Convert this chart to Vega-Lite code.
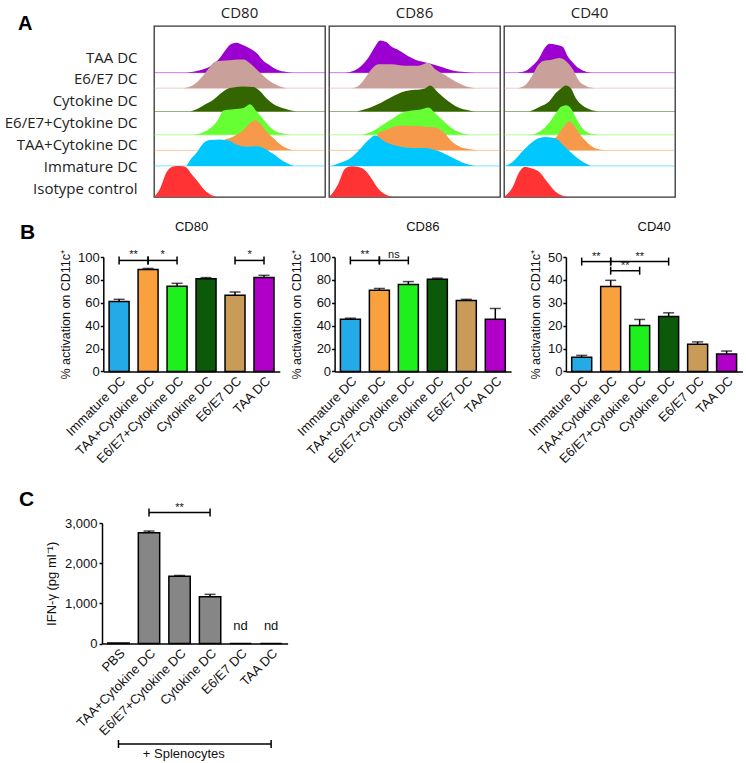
{
"$schema":"https://vega.github.io/schema/vega-lite/v6.json",
"padding":{"left":0,"top":5,"right":0,"bottom":0},
"background":"#ffffff",
"bounds":"flush",
"spacing":0,
"resolve":{"scale":{"x":"independent","y":"independent","color":"independent"}},
"config":{"view":{"stroke":null},"font":"Liberation Sans","axis":{"domainColor":"#000","tickColor":"#000","labelColor":"#111","titleColor":"#111","grid":false,"labelFont":"Liberation Sans","titleFont":"Liberation Sans","titleFontWeight":"normal","domainWidth":1.5,"tickWidth":1.5},"title":{"font":"Liberation Sans","fontWeight":"normal","color":"#111"},"text":{"font":"Liberation Sans","color":"#111"}},
"datasets":{
"hist":[
{"m":"CD80","g":"TAA DC","ch":196,"n":0},{"m":"CD80","g":"TAA DC","ch":276,"n":8},{"m":"CD80","g":"TAA DC","ch":336,"n":20},{"m":"CD80","g":"TAA DC","ch":396,"n":48},{"m":"CD80","g":"TAA DC","ch":436,"n":78},{"m":"CD80","g":"TAA DC","ch":466,"n":93},{"m":"CD80","g":"TAA DC","ch":496,"n":96},{"m":"CD80","g":"TAA DC","ch":536,"n":88},{"m":"CD80","g":"TAA DC","ch":576,"n":78},{"m":"CD80","g":"TAA DC","ch":616,"n":63},{"m":"CD80","g":"TAA DC","ch":656,"n":38},{"m":"CD80","g":"TAA DC","ch":696,"n":23},{"m":"CD80","g":"TAA DC","ch":736,"n":10},{"m":"CD80","g":"TAA DC","ch":796,"n":2},{"m":"CD80","g":"TAA DC","ch":836,"n":0},
{"m":"CD80","g":"E6/E7 DC","ch":176,"n":0},{"m":"CD80","g":"E6/E7 DC","ch":236,"n":10},{"m":"CD80","g":"E6/E7 DC","ch":286,"n":35},{"m":"CD80","g":"E6/E7 DC","ch":326,"n":62},{"m":"CD80","g":"E6/E7 DC","ch":366,"n":85},{"m":"CD80","g":"E6/E7 DC","ch":406,"n":88},{"m":"CD80","g":"E6/E7 DC","ch":456,"n":90},{"m":"CD80","g":"E6/E7 DC","ch":506,"n":92},{"m":"CD80","g":"E6/E7 DC","ch":536,"n":92},{"m":"CD80","g":"E6/E7 DC","ch":576,"n":80},{"m":"CD80","g":"E6/E7 DC","ch":616,"n":60},{"m":"CD80","g":"E6/E7 DC","ch":656,"n":40},{"m":"CD80","g":"E6/E7 DC","ch":696,"n":22},{"m":"CD80","g":"E6/E7 DC","ch":746,"n":8},{"m":"CD80","g":"E6/E7 DC","ch":796,"n":0},
{"m":"CD80","g":"Cytokine DC","ch":216,"n":0},{"m":"CD80","g":"Cytokine DC","ch":256,"n":8},{"m":"CD80","g":"Cytokine DC","ch":296,"n":21},{"m":"CD80","g":"Cytokine DC","ch":356,"n":41},{"m":"CD80","g":"Cytokine DC","ch":396,"n":61},{"m":"CD80","g":"Cytokine DC","ch":436,"n":78},{"m":"CD80","g":"Cytokine DC","ch":476,"n":84},{"m":"CD80","g":"Cytokine DC","ch":536,"n":88},{"m":"CD80","g":"Cytokine DC","ch":596,"n":86},{"m":"CD80","g":"Cytokine DC","ch":636,"n":71},{"m":"CD80","g":"Cytokine DC","ch":676,"n":46},{"m":"CD80","g":"Cytokine DC","ch":716,"n":26},{"m":"CD80","g":"Cytokine DC","ch":776,"n":11},{"m":"CD80","g":"Cytokine DC","ch":836,"n":2},{"m":"CD80","g":"Cytokine DC","ch":856,"n":0},
{"m":"CD80","g":"E6/E7+Cytokine DC","ch":236,"n":0},{"m":"CD80","g":"E6/E7+Cytokine DC","ch":296,"n":8},{"m":"CD80","g":"E6/E7+Cytokine DC","ch":356,"n":30},{"m":"CD80","g":"E6/E7+Cytokine DC","ch":386,"n":50},{"m":"CD80","g":"E6/E7+Cytokine DC","ch":416,"n":78},{"m":"CD80","g":"E6/E7+Cytokine DC","ch":476,"n":82},{"m":"CD80","g":"E6/E7+Cytokine DC","ch":536,"n":86},{"m":"CD80","g":"E6/E7+Cytokine DC","ch":576,"n":98},{"m":"CD80","g":"E6/E7+Cytokine DC","ch":616,"n":75},{"m":"CD80","g":"E6/E7+Cytokine DC","ch":656,"n":50},{"m":"CD80","g":"E6/E7+Cytokine DC","ch":696,"n":25},{"m":"CD80","g":"E6/E7+Cytokine DC","ch":736,"n":10},{"m":"CD80","g":"E6/E7+Cytokine DC","ch":796,"n":2},{"m":"CD80","g":"E6/E7+Cytokine DC","ch":816,"n":0},
{"m":"CD80","g":"TAA+Cytokine DC","ch":296,"n":0},{"m":"CD80","g":"TAA+Cytokine DC","ch":376,"n":10},{"m":"CD80","g":"TAA+Cytokine DC","ch":426,"n":35},{"m":"CD80","g":"TAA+Cytokine DC","ch":456,"n":40},{"m":"CD80","g":"TAA+Cytokine DC","ch":496,"n":50},{"m":"CD80","g":"TAA+Cytokine DC","ch":536,"n":65},{"m":"CD80","g":"TAA+Cytokine DC","ch":576,"n":87},{"m":"CD80","g":"TAA+Cytokine DC","ch":606,"n":97},{"m":"CD80","g":"TAA+Cytokine DC","ch":636,"n":87},{"m":"CD80","g":"TAA+Cytokine DC","ch":676,"n":60},{"m":"CD80","g":"TAA+Cytokine DC","ch":716,"n":40},{"m":"CD80","g":"TAA+Cytokine DC","ch":756,"n":20},{"m":"CD80","g":"TAA+Cytokine DC","ch":796,"n":7},{"m":"CD80","g":"TAA+Cytokine DC","ch":836,"n":0},
{"m":"CD80","g":"Immature DC","ch":196,"n":0},{"m":"CD80","g":"Immature DC","ch":216,"n":18},{"m":"CD80","g":"Immature DC","ch":256,"n":43},{"m":"CD80","g":"Immature DC","ch":296,"n":73},{"m":"CD80","g":"Immature DC","ch":336,"n":83},{"m":"CD80","g":"Immature DC","ch":396,"n":85},{"m":"CD80","g":"Immature DC","ch":456,"n":80},{"m":"CD80","g":"Immature DC","ch":496,"n":68},{"m":"CD80","g":"Immature DC","ch":556,"n":62},{"m":"CD80","g":"Immature DC","ch":616,"n":63},{"m":"CD80","g":"Immature DC","ch":656,"n":58},{"m":"CD80","g":"Immature DC","ch":716,"n":38},{"m":"CD80","g":"Immature DC","ch":776,"n":15},{"m":"CD80","g":"Immature DC","ch":836,"n":0},
{"m":"CD80","g":"Isotype control","ch":0,"n":0},{"m":"CD80","g":"Isotype control","ch":36,"n":25},{"m":"CD80","g":"Isotype control","ch":76,"n":75},{"m":"CD80","g":"Isotype control","ch":106,"n":90},{"m":"CD80","g":"Isotype control","ch":136,"n":93},{"m":"CD80","g":"Isotype control","ch":176,"n":92},{"m":"CD80","g":"Isotype control","ch":196,"n":88},{"m":"CD80","g":"Isotype control","ch":226,"n":68},{"m":"CD80","g":"Isotype control","ch":256,"n":50},{"m":"CD80","g":"Isotype control","ch":296,"n":25},{"m":"CD80","g":"Isotype control","ch":336,"n":8},{"m":"CD80","g":"Isotype control","ch":376,"n":0},
{"m":"CD86","g":"TAA DC","ch":96,"n":0},{"m":"CD86","g":"TAA DC","ch":156,"n":8},{"m":"CD86","g":"TAA DC","ch":196,"n":23},{"m":"CD86","g":"TAA DC","ch":236,"n":48},{"m":"CD86","g":"TAA DC","ch":276,"n":83},{"m":"CD86","g":"TAA DC","ch":306,"n":103},{"m":"CD86","g":"TAA DC","ch":346,"n":98},{"m":"CD86","g":"TAA DC","ch":376,"n":83},{"m":"CD86","g":"TAA DC","ch":416,"n":73},{"m":"CD86","g":"TAA DC","ch":476,"n":53},{"m":"CD86","g":"TAA DC","ch":536,"n":38},{"m":"CD86","g":"TAA DC","ch":586,"n":32},{"m":"CD86","g":"TAA DC","ch":616,"n":28},{"m":"CD86","g":"TAA DC","ch":676,"n":18},{"m":"CD86","g":"TAA DC","ch":736,"n":8},{"m":"CD86","g":"TAA DC","ch":816,"n":2},{"m":"CD86","g":"TAA DC","ch":876,"n":0},
{"m":"CD86","g":"E6/E7 DC","ch":136,"n":0},{"m":"CD86","g":"E6/E7 DC","ch":176,"n":7},{"m":"CD86","g":"E6/E7 DC","ch":216,"n":32},{"m":"CD86","g":"E6/E7 DC","ch":256,"n":62},{"m":"CD86","g":"E6/E7 DC","ch":296,"n":77},{"m":"CD86","g":"E6/E7 DC","ch":376,"n":77},{"m":"CD86","g":"E6/E7 DC","ch":456,"n":72},{"m":"CD86","g":"E6/E7 DC","ch":536,"n":72},{"m":"CD86","g":"E6/E7 DC","ch":596,"n":82},{"m":"CD86","g":"E6/E7 DC","ch":636,"n":62},{"m":"CD86","g":"E6/E7 DC","ch":696,"n":42},{"m":"CD86","g":"E6/E7 DC","ch":756,"n":22},{"m":"CD86","g":"E6/E7 DC","ch":816,"n":7},{"m":"CD86","g":"E6/E7 DC","ch":876,"n":0},
{"m":"CD86","g":"Cytokine DC","ch":166,"n":0},{"m":"CD86","g":"Cytokine DC","ch":236,"n":11},{"m":"CD86","g":"Cytokine DC","ch":296,"n":26},{"m":"CD86","g":"Cytokine DC","ch":376,"n":51},{"m":"CD86","g":"Cytokine DC","ch":456,"n":71},{"m":"CD86","g":"Cytokine DC","ch":516,"n":76},{"m":"CD86","g":"Cytokine DC","ch":576,"n":81},{"m":"CD86","g":"Cytokine DC","ch":606,"n":91},{"m":"CD86","g":"Cytokine DC","ch":656,"n":66},{"m":"CD86","g":"Cytokine DC","ch":716,"n":36},{"m":"CD86","g":"Cytokine DC","ch":776,"n":14},{"m":"CD86","g":"Cytokine DC","ch":836,"n":4},{"m":"CD86","g":"Cytokine DC","ch":876,"n":0},
{"m":"CD86","g":"E6/E7+Cytokine DC","ch":196,"n":0},{"m":"CD86","g":"E6/E7+Cytokine DC","ch":256,"n":10},{"m":"CD86","g":"E6/E7+Cytokine DC","ch":316,"n":30},{"m":"CD86","g":"E6/E7+Cytokine DC","ch":376,"n":50},{"m":"CD86","g":"E6/E7+Cytokine DC","ch":436,"n":70},{"m":"CD86","g":"E6/E7+Cytokine DC","ch":496,"n":78},{"m":"CD86","g":"E6/E7+Cytokine DC","ch":556,"n":82},{"m":"CD86","g":"E6/E7+Cytokine DC","ch":596,"n":88},{"m":"CD86","g":"E6/E7+Cytokine DC","ch":636,"n":70},{"m":"CD86","g":"E6/E7+Cytokine DC","ch":696,"n":40},{"m":"CD86","g":"E6/E7+Cytokine DC","ch":756,"n":15},{"m":"CD86","g":"E6/E7+Cytokine DC","ch":816,"n":3},{"m":"CD86","g":"E6/E7+Cytokine DC","ch":876,"n":0},
{"m":"CD86","g":"TAA+Cytokine DC","ch":136,"n":0},{"m":"CD86","g":"TAA+Cytokine DC","ch":216,"n":8},{"m":"CD86","g":"TAA+Cytokine DC","ch":276,"n":30},{"m":"CD86","g":"TAA+Cytokine DC","ch":296,"n":55},{"m":"CD86","g":"TAA+Cytokine DC","ch":336,"n":64},{"m":"CD86","g":"TAA+Cytokine DC","ch":416,"n":79},{"m":"CD86","g":"TAA+Cytokine DC","ch":496,"n":79},{"m":"CD86","g":"TAA+Cytokine DC","ch":576,"n":76},{"m":"CD86","g":"TAA+Cytokine DC","ch":636,"n":74},{"m":"CD86","g":"TAA+Cytokine DC","ch":696,"n":54},{"m":"CD86","g":"TAA+Cytokine DC","ch":736,"n":29},{"m":"CD86","g":"TAA+Cytokine DC","ch":776,"n":14},{"m":"CD86","g":"TAA+Cytokine DC","ch":836,"n":4},{"m":"CD86","g":"TAA+Cytokine DC","ch":896,"n":0},
{"m":"CD86","g":"Immature DC","ch":16,"n":0},{"m":"CD86","g":"Immature DC","ch":56,"n":8},{"m":"CD86","g":"Immature DC","ch":136,"n":28},{"m":"CD86","g":"Immature DC","ch":176,"n":48},{"m":"CD86","g":"Immature DC","ch":236,"n":83},{"m":"CD86","g":"Immature DC","ch":276,"n":98},{"m":"CD86","g":"Immature DC","ch":336,"n":78},{"m":"CD86","g":"Immature DC","ch":416,"n":63},{"m":"CD86","g":"Immature DC","ch":496,"n":58},{"m":"CD86","g":"Immature DC","ch":576,"n":58},{"m":"CD86","g":"Immature DC","ch":656,"n":48},{"m":"CD86","g":"Immature DC","ch":736,"n":28},{"m":"CD86","g":"Immature DC","ch":816,"n":8},{"m":"CD86","g":"Immature DC","ch":876,"n":0},
{"m":"CD86","g":"Isotype control","ch":0,"n":0},{"m":"CD86","g":"Isotype control","ch":26,"n":15},{"m":"CD86","g":"Isotype control","ch":56,"n":40},{"m":"CD86","g":"Isotype control","ch":96,"n":85},{"m":"CD86","g":"Isotype control","ch":136,"n":92},{"m":"CD86","g":"Isotype control","ch":176,"n":90},{"m":"CD86","g":"Isotype control","ch":216,"n":80},{"m":"CD86","g":"Isotype control","ch":256,"n":55},{"m":"CD86","g":"Isotype control","ch":296,"n":25},{"m":"CD86","g":"Isotype control","ch":336,"n":8},{"m":"CD86","g":"Isotype control","ch":386,"n":0},
{"m":"CD40","g":"TAA DC","ch":82,"n":0},{"m":"CD40","g":"TAA DC","ch":132,"n":6},{"m":"CD40","g":"TAA DC","ch":172,"n":23},{"m":"CD40","g":"TAA DC","ch":212,"n":48},{"m":"CD40","g":"TAA DC","ch":242,"n":78},{"m":"CD40","g":"TAA DC","ch":272,"n":93},{"m":"CD40","g":"TAA DC","ch":312,"n":90},{"m":"CD40","g":"TAA DC","ch":352,"n":83},{"m":"CD40","g":"TAA DC","ch":382,"n":53},{"m":"CD40","g":"TAA DC","ch":412,"n":33},{"m":"CD40","g":"TAA DC","ch":452,"n":13},{"m":"CD40","g":"TAA DC","ch":492,"n":3},{"m":"CD40","g":"TAA DC","ch":532,"n":0},
{"m":"CD40","g":"E6/E7 DC","ch":82,"n":0},{"m":"CD40","g":"E6/E7 DC","ch":132,"n":12},{"m":"CD40","g":"E6/E7 DC","ch":172,"n":42},{"m":"CD40","g":"E6/E7 DC","ch":202,"n":72},{"m":"CD40","g":"E6/E7 DC","ch":232,"n":87},{"m":"CD40","g":"E6/E7 DC","ch":292,"n":92},{"m":"CD40","g":"E6/E7 DC","ch":332,"n":97},{"m":"CD40","g":"E6/E7 DC","ch":372,"n":87},{"m":"CD40","g":"E6/E7 DC","ch":412,"n":62},{"m":"CD40","g":"E6/E7 DC","ch":452,"n":22},{"m":"CD40","g":"E6/E7 DC","ch":492,"n":7},{"m":"CD40","g":"E6/E7 DC","ch":542,"n":0},
{"m":"CD40","g":"Cytokine DC","ch":152,"n":0},{"m":"CD40","g":"Cytokine DC","ch":212,"n":16},{"m":"CD40","g":"Cytokine DC","ch":272,"n":36},{"m":"CD40","g":"Cytokine DC","ch":312,"n":66},{"m":"CD40","g":"Cytokine DC","ch":342,"n":81},{"m":"CD40","g":"Cytokine DC","ch":372,"n":91},{"m":"CD40","g":"Cytokine DC","ch":402,"n":81},{"m":"CD40","g":"Cytokine DC","ch":432,"n":46},{"m":"CD40","g":"Cytokine DC","ch":472,"n":21},{"m":"CD40","g":"Cytokine DC","ch":512,"n":8},{"m":"CD40","g":"Cytokine DC","ch":572,"n":0},
{"m":"CD40","g":"E6/E7+Cytokine DC","ch":152,"n":0},{"m":"CD40","g":"E6/E7+Cytokine DC","ch":212,"n":10},{"m":"CD40","g":"E6/E7+Cytokine DC","ch":272,"n":40},{"m":"CD40","g":"E6/E7+Cytokine DC","ch":312,"n":70},{"m":"CD40","g":"E6/E7+Cytokine DC","ch":342,"n":90},{"m":"CD40","g":"E6/E7+Cytokine DC","ch":372,"n":95},{"m":"CD40","g":"E6/E7+Cytokine DC","ch":402,"n":85},{"m":"CD40","g":"E6/E7+Cytokine DC","ch":432,"n":55},{"m":"CD40","g":"E6/E7+Cytokine DC","ch":472,"n":20},{"m":"CD40","g":"E6/E7+Cytokine DC","ch":512,"n":5},{"m":"CD40","g":"E6/E7+Cytokine DC","ch":572,"n":0},
{"m":"CD40","g":"TAA+Cytokine DC","ch":192,"n":0},{"m":"CD40","g":"TAA+Cytokine DC","ch":272,"n":19},{"m":"CD40","g":"TAA+Cytokine DC","ch":322,"n":49},{"m":"CD40","g":"TAA+Cytokine DC","ch":362,"n":79},{"m":"CD40","g":"TAA+Cytokine DC","ch":392,"n":94},{"m":"CD40","g":"TAA+Cytokine DC","ch":422,"n":79},{"m":"CD40","g":"TAA+Cytokine DC","ch":452,"n":54},{"m":"CD40","g":"TAA+Cytokine DC","ch":502,"n":24},{"m":"CD40","g":"TAA+Cytokine DC","ch":552,"n":6},{"m":"CD40","g":"TAA+Cytokine DC","ch":612,"n":0},
{"m":"CD40","g":"Immature DC","ch":12,"n":0},{"m":"CD40","g":"Immature DC","ch":52,"n":13},{"m":"CD40","g":"Immature DC","ch":112,"n":48},{"m":"CD40","g":"Immature DC","ch":172,"n":78},{"m":"CD40","g":"Immature DC","ch":212,"n":90},{"m":"CD40","g":"Immature DC","ch":252,"n":93},{"m":"CD40","g":"Immature DC","ch":312,"n":88},{"m":"CD40","g":"Immature DC","ch":352,"n":68},{"m":"CD40","g":"Immature DC","ch":412,"n":38},{"m":"CD40","g":"Immature DC","ch":472,"n":13},{"m":"CD40","g":"Immature DC","ch":522,"n":0},
{"m":"CD40","g":"Isotype control","ch":2,"n":0},{"m":"CD40","g":"Isotype control","ch":52,"n":30},{"m":"CD40","g":"Isotype control","ch":92,"n":75},{"m":"CD40","g":"Isotype control","ch":122,"n":90},{"m":"CD40","g":"Isotype control","ch":172,"n":85},{"m":"CD40","g":"Isotype control","ch":212,"n":75},{"m":"CD40","g":"Isotype control","ch":252,"n":50},{"m":"CD40","g":"Isotype control","ch":292,"n":25},{"m":"CD40","g":"Isotype control","ch":332,"n":8},{"m":"CD40","g":"Isotype control","ch":382,"n":0}
],
"bars":[
{"m":"CD80","g":"Immature DC","v":61,"u":63},{"m":"CD80","g":"TAA+Cytokine DC","v":89,"u":90},{"m":"CD80","g":"E6/E7+Cytokine DC","v":74.5,"u":77},{"m":"CD80","g":"Cytokine DC","v":81,"u":82},{"m":"CD80","g":"E6/E7 DC","v":66.5,"u":69.5},{"m":"CD80","g":"TAA DC","v":82,"u":84},
{"m":"CD86","g":"Immature DC","v":45.5,"u":46.5},{"m":"CD86","g":"TAA+Cytokine DC","v":71,"u":72.5},{"m":"CD86","g":"E6/E7+Cytokine DC","v":76,"u":78.5},{"m":"CD86","g":"Cytokine DC","v":80.5,"u":81.5},{"m":"CD86","g":"E6/E7 DC","v":62,"u":63},{"m":"CD86","g":"TAA DC","v":45.5,"u":55},
{"m":"CD40","g":"Immature DC","v":6.2,"u":7},{"m":"CD40","g":"TAA+Cytokine DC","v":37.1,"u":39.8},{"m":"CD40","g":"E6/E7+Cytokine DC","v":20.1,"u":22.7},{"m":"CD40","g":"Cytokine DC","v":24,"u":25.6},{"m":"CD40","g":"E6/E7 DC","v":11.9,"u":12.9},{"m":"CD40","g":"TAA DC","v":7.6,"u":8.9}
],
"br":[
{"m":"CD80","from":"Immature DC","to":"TAA+Cytokine DC","mid":"","span":1,"lv":97,"lab":"**"},
{"m":"CD80","from":"TAA+Cytokine DC","to":"E6/E7+Cytokine DC","mid":"","span":1,"lv":97,"lab":"*"},
{"m":"CD80","from":"E6/E7 DC","to":"TAA DC","mid":"","span":1,"lv":97,"lab":"*"},
{"m":"CD86","from":"Immature DC","to":"TAA+Cytokine DC","mid":"","span":1,"lv":97,"lab":"**"},
{"m":"CD86","from":"TAA+Cytokine DC","to":"E6/E7+Cytokine DC","mid":"","span":1,"lv":97,"lab":"ns"},
{"m":"CD40","from":"Immature DC","to":"TAA+Cytokine DC","mid":"","span":1,"lv":48,"lab":"**"},
{"m":"CD40","from":"TAA+Cytokine DC","to":"Cytokine DC","mid":"E6/E7+Cytokine DC","span":2,"lv":48,"lab":"**"},
{"m":"CD40","from":"TAA+Cytokine DC","to":"E6/E7+Cytokine DC","mid":"","span":1,"lv":44,"lab":"**"},
{"m":"IFN","from":"TAA+Cytokine DC","to":"Cytokine DC","mid":"E6/E7+Cytokine DC","span":2,"lv":3260,"lab":"**"}
],
"cb":[
{"g":"PBS","v":12,"u":12,"lab":""},{"g":"TAA+Cytokine DC","v":2760,"u":2800,"lab":""},{"g":"E6/E7+Cytokine DC","v":1675,"u":1695,"lab":""},{"g":"Cytokine DC","v":1165,"u":1225,"lab":""},{"g":"E6/E7 DC","v":0,"u":0,"lab":"nd"},{"g":"TAA DC","v":0,"u":0,"lab":"nd"}
]
},
"vconcat":[
{"bounds":"flush","spacing":4,"resolve":{"scale":{"x":"independent","y":"independent","color":"independent"}},"hconcat":[
{"width":150,"height":171,"data":{"values":[]},"mark":"point","title":{"text":"A","anchor":"start","frame":"group","fontSize":20,"fontWeight":"bold","color":"#000","baseline":"alphabetic","offset":-19,"dx":18,"dy":5}},
{"width":171,"height":171,"view":{"stroke":"#333","strokeWidth":1.3},"title":{"text":"CD80","frame":"group","anchor":"middle","font":"Open Sans","fontSize":15,"color":"#222","baseline":"alphabetic","offset":-7.2},"resolve":{"scale":{"y":"independent"}},"layer":[
{"layer":[{"data":{"name":"hist"},"transform":[{"filter":"datum.m=='CD80'&&datum.g=='TAA DC'"}],"mark":{"type":"area","color":"#9B00D0","interpolate":"monotone"},"encoding":{"x":{"field":"ch","type":"quantitative","scale":{"domain":[0,1026]},"axis":null},"y":{"field":"n","type":"quantitative","scale":{"domain":[-385,128]},"axis":null},"y2":{"datum":0}}},{"data":{"values":[{}]},"mark":{"type":"rule","color":"#9B00D0","strokeWidth":1,"opacity":0.5},"encoding":{"y":{"datum":0,"type":"quantitative","axis":null}}}]},
{"layer":[{"data":{"name":"hist"},"transform":[{"filter":"datum.m=='CD80'&&datum.g=='E6/E7 DC'"}],"mark":{"type":"area","color":"#C9A09A","interpolate":"monotone"},"encoding":{"x":{"field":"ch","type":"quantitative","scale":{"domain":[0,1026]},"axis":null},"y":{"field":"n","type":"quantitative","scale":{"domain":[-321,192]},"axis":null},"y2":{"datum":0}}},{"data":{"values":[{}]},"mark":{"type":"rule","color":"#C9A09A","strokeWidth":1,"opacity":0.5},"encoding":{"y":{"datum":0,"type":"quantitative","axis":null}}}]},
{"layer":[{"data":{"name":"hist"},"transform":[{"filter":"datum.m=='CD80'&&datum.g=='Cytokine DC'"}],"mark":{"type":"area","color":"#336600","interpolate":"monotone"},"encoding":{"x":{"field":"ch","type":"quantitative","scale":{"domain":[0,1026]},"axis":null},"y":{"field":"n","type":"quantitative","scale":{"domain":[-257,256]},"axis":null},"y2":{"datum":0}}},{"data":{"values":[{}]},"mark":{"type":"rule","color":"#336600","strokeWidth":1,"opacity":0.5},"encoding":{"y":{"datum":0,"type":"quantitative","axis":null}}}]},
{"layer":[{"data":{"name":"hist"},"transform":[{"filter":"datum.m=='CD80'&&datum.g=='E6/E7+Cytokine DC'"}],"mark":{"type":"area","color":"#66FF33","interpolate":"monotone"},"encoding":{"x":{"field":"ch","type":"quantitative","scale":{"domain":[0,1026]},"axis":null},"y":{"field":"n","type":"quantitative","scale":{"domain":[-193,320]},"axis":null},"y2":{"datum":0}}},{"data":{"values":[{}]},"mark":{"type":"rule","color":"#66FF33","strokeWidth":1,"opacity":0.5},"encoding":{"y":{"datum":0,"type":"quantitative","axis":null}}}]},
{"layer":[{"data":{"name":"hist"},"transform":[{"filter":"datum.m=='CD80'&&datum.g=='TAA+Cytokine DC'"}],"mark":{"type":"area","color":"#F7994A","interpolate":"monotone"},"encoding":{"x":{"field":"ch","type":"quantitative","scale":{"domain":[0,1026]},"axis":null},"y":{"field":"n","type":"quantitative","scale":{"domain":[-128,385]},"axis":null},"y2":{"datum":0}}},{"data":{"values":[{}]},"mark":{"type":"rule","color":"#F7994A","strokeWidth":1,"opacity":0.5},"encoding":{"y":{"datum":0,"type":"quantitative","axis":null}}}]},
{"layer":[{"data":{"name":"hist"},"transform":[{"filter":"datum.m=='CD80'&&datum.g=='Immature DC'"}],"mark":{"type":"area","color":"#00C8FF","interpolate":"monotone"},"encoding":{"x":{"field":"ch","type":"quantitative","scale":{"domain":[0,1026]},"axis":null},"y":{"field":"n","type":"quantitative","scale":{"domain":[-64,449]},"axis":null},"y2":{"datum":0}}},{"data":{"values":[{}]},"mark":{"type":"rule","color":"#00C8FF","strokeWidth":1,"opacity":0.5},"encoding":{"y":{"datum":0,"type":"quantitative","axis":null}}}]},
{"layer":[{"data":{"name":"hist"},"transform":[{"filter":"datum.m=='CD80'&&datum.g=='Isotype control'"}],"mark":{"type":"area","color":"#FF3333","interpolate":"monotone"},"encoding":{"x":{"field":"ch","type":"quantitative","scale":{"domain":[0,1026]},"axis":null},"y":{"field":"n","type":"quantitative","scale":{"domain":[0,513]},"axis":null},"y2":{"datum":0}}}]},
{"data":{"values":[{"g":"TAA DC"},{"g":"E6/E7 DC"},{"g":"Cytokine DC"},{"g":"E6/E7+Cytokine DC"},{"g":"TAA+Cytokine DC"},{"g":"Immature DC"},{"g":"Isotype control"}]},"mark":{"type":"point","opacity":0},"encoding":{"y":{"field":"g","type":"nominal","scale":{"type":"point","padding":0,"domain":["TAA DC","E6/E7 DC","Cytokine DC","E6/E7+Cytokine DC","TAA+Cytokine DC","Immature DC","Isotype control"],"range":[31,162]},"axis":{"orient":"left","ticks":false,"tickSize":0,"domain":false,"labelFont":"Open Sans","labelFontSize":15,"labelColor":"#222","labelPadding":17,"title":null,"labelBaseline":"middle"}}}}
]},
{"width":171,"height":171,"view":{"stroke":"#333","strokeWidth":1.3},"title":{"text":"CD86","frame":"group","anchor":"middle","font":"Open Sans","fontSize":15,"color":"#222","baseline":"alphabetic","offset":-7.2},"resolve":{"scale":{"y":"independent"}},"layer":[
{"layer":[{"data":{"name":"hist"},"transform":[{"filter":"datum.m=='CD86'&&datum.g=='TAA DC'"}],"mark":{"type":"area","color":"#9B00D0","interpolate":"monotone"},"encoding":{"x":{"field":"ch","type":"quantitative","scale":{"domain":[0,1026]},"axis":null},"y":{"field":"n","type":"quantitative","scale":{"domain":[-385,128]},"axis":null},"y2":{"datum":0}}},{"data":{"values":[{}]},"mark":{"type":"rule","color":"#9B00D0","strokeWidth":1,"opacity":0.5},"encoding":{"y":{"datum":0,"type":"quantitative","axis":null}}}]},
{"layer":[{"data":{"name":"hist"},"transform":[{"filter":"datum.m=='CD86'&&datum.g=='E6/E7 DC'"}],"mark":{"type":"area","color":"#C9A09A","interpolate":"monotone"},"encoding":{"x":{"field":"ch","type":"quantitative","scale":{"domain":[0,1026]},"axis":null},"y":{"field":"n","type":"quantitative","scale":{"domain":[-321,192]},"axis":null},"y2":{"datum":0}}},{"data":{"values":[{}]},"mark":{"type":"rule","color":"#C9A09A","strokeWidth":1,"opacity":0.5},"encoding":{"y":{"datum":0,"type":"quantitative","axis":null}}}]},
{"layer":[{"data":{"name":"hist"},"transform":[{"filter":"datum.m=='CD86'&&datum.g=='Cytokine DC'"}],"mark":{"type":"area","color":"#336600","interpolate":"monotone"},"encoding":{"x":{"field":"ch","type":"quantitative","scale":{"domain":[0,1026]},"axis":null},"y":{"field":"n","type":"quantitative","scale":{"domain":[-257,256]},"axis":null},"y2":{"datum":0}}},{"data":{"values":[{}]},"mark":{"type":"rule","color":"#336600","strokeWidth":1,"opacity":0.5},"encoding":{"y":{"datum":0,"type":"quantitative","axis":null}}}]},
{"layer":[{"data":{"name":"hist"},"transform":[{"filter":"datum.m=='CD86'&&datum.g=='E6/E7+Cytokine DC'"}],"mark":{"type":"area","color":"#66FF33","interpolate":"monotone"},"encoding":{"x":{"field":"ch","type":"quantitative","scale":{"domain":[0,1026]},"axis":null},"y":{"field":"n","type":"quantitative","scale":{"domain":[-193,320]},"axis":null},"y2":{"datum":0}}},{"data":{"values":[{}]},"mark":{"type":"rule","color":"#66FF33","strokeWidth":1,"opacity":0.5},"encoding":{"y":{"datum":0,"type":"quantitative","axis":null}}}]},
{"layer":[{"data":{"name":"hist"},"transform":[{"filter":"datum.m=='CD86'&&datum.g=='TAA+Cytokine DC'"}],"mark":{"type":"area","color":"#F7994A","interpolate":"monotone"},"encoding":{"x":{"field":"ch","type":"quantitative","scale":{"domain":[0,1026]},"axis":null},"y":{"field":"n","type":"quantitative","scale":{"domain":[-128,385]},"axis":null},"y2":{"datum":0}}},{"data":{"values":[{}]},"mark":{"type":"rule","color":"#F7994A","strokeWidth":1,"opacity":0.5},"encoding":{"y":{"datum":0,"type":"quantitative","axis":null}}}]},
{"layer":[{"data":{"name":"hist"},"transform":[{"filter":"datum.m=='CD86'&&datum.g=='Immature DC'"}],"mark":{"type":"area","color":"#00C8FF","interpolate":"monotone"},"encoding":{"x":{"field":"ch","type":"quantitative","scale":{"domain":[0,1026]},"axis":null},"y":{"field":"n","type":"quantitative","scale":{"domain":[-64,449]},"axis":null},"y2":{"datum":0}}},{"data":{"values":[{}]},"mark":{"type":"rule","color":"#00C8FF","strokeWidth":1,"opacity":0.5},"encoding":{"y":{"datum":0,"type":"quantitative","axis":null}}}]},
{"layer":[{"data":{"name":"hist"},"transform":[{"filter":"datum.m=='CD86'&&datum.g=='Isotype control'"}],"mark":{"type":"area","color":"#FF3333","interpolate":"monotone"},"encoding":{"x":{"field":"ch","type":"quantitative","scale":{"domain":[0,1026]},"axis":null},"y":{"field":"n","type":"quantitative","scale":{"domain":[0,513]},"axis":null},"y2":{"datum":0}}}]}
]},
{"width":171,"height":171,"view":{"stroke":"#333","strokeWidth":1.3},"title":{"text":"CD40","frame":"group","anchor":"middle","font":"Open Sans","fontSize":15,"color":"#222","baseline":"alphabetic","offset":-7.2},"resolve":{"scale":{"y":"independent"}},"layer":[
{"layer":[{"data":{"name":"hist"},"transform":[{"filter":"datum.m=='CD40'&&datum.g=='TAA DC'"}],"mark":{"type":"area","color":"#9B00D0","interpolate":"monotone"},"encoding":{"x":{"field":"ch","type":"quantitative","scale":{"domain":[0,1026]},"axis":null},"y":{"field":"n","type":"quantitative","scale":{"domain":[-385,128]},"axis":null},"y2":{"datum":0}}},{"data":{"values":[{}]},"mark":{"type":"rule","color":"#9B00D0","strokeWidth":1,"opacity":0.5},"encoding":{"y":{"datum":0,"type":"quantitative","axis":null}}}]},
{"layer":[{"data":{"name":"hist"},"transform":[{"filter":"datum.m=='CD40'&&datum.g=='E6/E7 DC'"}],"mark":{"type":"area","color":"#C9A09A","interpolate":"monotone"},"encoding":{"x":{"field":"ch","type":"quantitative","scale":{"domain":[0,1026]},"axis":null},"y":{"field":"n","type":"quantitative","scale":{"domain":[-321,192]},"axis":null},"y2":{"datum":0}}},{"data":{"values":[{}]},"mark":{"type":"rule","color":"#C9A09A","strokeWidth":1,"opacity":0.5},"encoding":{"y":{"datum":0,"type":"quantitative","axis":null}}}]},
{"layer":[{"data":{"name":"hist"},"transform":[{"filter":"datum.m=='CD40'&&datum.g=='Cytokine DC'"}],"mark":{"type":"area","color":"#336600","interpolate":"monotone"},"encoding":{"x":{"field":"ch","type":"quantitative","scale":{"domain":[0,1026]},"axis":null},"y":{"field":"n","type":"quantitative","scale":{"domain":[-257,256]},"axis":null},"y2":{"datum":0}}},{"data":{"values":[{}]},"mark":{"type":"rule","color":"#336600","strokeWidth":1,"opacity":0.5},"encoding":{"y":{"datum":0,"type":"quantitative","axis":null}}}]},
{"layer":[{"data":{"name":"hist"},"transform":[{"filter":"datum.m=='CD40'&&datum.g=='E6/E7+Cytokine DC'"}],"mark":{"type":"area","color":"#66FF33","interpolate":"monotone"},"encoding":{"x":{"field":"ch","type":"quantitative","scale":{"domain":[0,1026]},"axis":null},"y":{"field":"n","type":"quantitative","scale":{"domain":[-193,320]},"axis":null},"y2":{"datum":0}}},{"data":{"values":[{}]},"mark":{"type":"rule","color":"#66FF33","strokeWidth":1,"opacity":0.5},"encoding":{"y":{"datum":0,"type":"quantitative","axis":null}}}]},
{"layer":[{"data":{"name":"hist"},"transform":[{"filter":"datum.m=='CD40'&&datum.g=='TAA+Cytokine DC'"}],"mark":{"type":"area","color":"#F7994A","interpolate":"monotone"},"encoding":{"x":{"field":"ch","type":"quantitative","scale":{"domain":[0,1026]},"axis":null},"y":{"field":"n","type":"quantitative","scale":{"domain":[-128,385]},"axis":null},"y2":{"datum":0}}},{"data":{"values":[{}]},"mark":{"type":"rule","color":"#F7994A","strokeWidth":1,"opacity":0.5},"encoding":{"y":{"datum":0,"type":"quantitative","axis":null}}}]},
{"layer":[{"data":{"name":"hist"},"transform":[{"filter":"datum.m=='CD40'&&datum.g=='Immature DC'"}],"mark":{"type":"area","color":"#00C8FF","interpolate":"monotone"},"encoding":{"x":{"field":"ch","type":"quantitative","scale":{"domain":[0,1026]},"axis":null},"y":{"field":"n","type":"quantitative","scale":{"domain":[-64,449]},"axis":null},"y2":{"datum":0}}},{"data":{"values":[{}]},"mark":{"type":"rule","color":"#00C8FF","strokeWidth":1,"opacity":0.5},"encoding":{"y":{"datum":0,"type":"quantitative","axis":null}}}]},
{"layer":[{"data":{"name":"hist"},"transform":[{"filter":"datum.m=='CD40'&&datum.g=='Isotype control'"}],"mark":{"type":"area","color":"#FF3333","interpolate":"monotone"},"encoding":{"x":{"field":"ch","type":"quantitative","scale":{"domain":[0,1026]},"axis":null},"y":{"field":"n","type":"quantitative","scale":{"domain":[0,513]},"axis":null},"y2":{"datum":0}}}]}
]}
]},
{"width":1,"height":230.3,"data":{"values":[]},"mark":"point"},
{"bounds":"flush","spacing":54.3,"resolve":{"scale":{"x":"independent","y":"independent","color":"independent"}},"hconcat":[
{"width":48.4,"height":114.4,"data":{"values":[]},"mark":"point","title":{"text":"B","anchor":"start","frame":"group","fontSize":21,"fontWeight":"bold","color":"#000","baseline":"alphabetic","offset":-2.8,"dx":20}},
{"width":176.5,"height":114.4,"title":{"text":"CD80","frame":"group","anchor":"middle","fontSize":13,"baseline":"alphabetic","offset":5},"layer":[
{"data":{"name":"bars"},"transform":[{"filter":"datum.m=='CD80'"}],"layer":[
{"mark":{"type":"bar","stroke":"#000","strokeWidth":1.5},"encoding":{"x":{"field":"g","type":"nominal","scale":{"type":"band","domain":["Immature DC","TAA+Cytokine DC","E6/E7+Cytokine DC","Cytokine DC","E6/E7 DC","TAA DC"],"paddingInner":0.31,"paddingOuter":0.2},"axis":{"title":null,"labelAngle":-45,"labelFontSize":13,"ticks":false,"labelPadding":3}},"y":{"field":"v","type":"quantitative","scale":{"domain":[0,100]},"axis":{"values":[0,20,40,60,80,100],"title":"% activation on CD11c⁺","tickSize":3,"labelPadding":1,"labelFontSize":13,"titleFontSize":12.5,"titlePadding":5}},"color":{"field":"g","type":"nominal","scale":{"domain":["Immature DC","TAA+Cytokine DC","E6/E7+Cytokine DC","Cytokine DC","E6/E7 DC","TAA DC"],"range":["#25AAE8","#F9A13E","#1EF01E","#0A5A0A","#C99A58","#B000C8"]},"legend":null}}},
{"mark":{"type":"rule","color":"#000","strokeWidth":1.5},"encoding":{"x":{"field":"g","type":"nominal","axis":{"title":null,"labelAngle":-45,"labelFontSize":13,"ticks":false,"labelPadding":3}},"y":{"field":"v","type":"quantitative","axis":{"values":[0,20,40,60,80,100],"title":"% activation on CD11c⁺","tickSize":3,"labelPadding":1,"labelFontSize":13,"titleFontSize":12.5,"titlePadding":5}},"y2":{"field":"u"}}},
{"mark":{"type":"tick","color":"#000","thickness":1.5,"size":11},"encoding":{"x":{"field":"g","type":"nominal","axis":{"title":null,"labelAngle":-45,"labelFontSize":13,"ticks":false,"labelPadding":3}},"y":{"field":"u","type":"quantitative","axis":{"values":[0,20,40,60,80,100],"title":"% activation on CD11c⁺","tickSize":3,"labelPadding":1,"labelFontSize":13,"titleFontSize":12.5,"titlePadding":5}}}}
]},
{"data":{"name":"br"},"transform":[{"filter":"datum.m=='CD80'"}],"layer":[
{"mark":{"type":"rule","color":"#000","strokeWidth":1.5},"encoding":{"x":{"field":"from","type":"nominal","axis":{"title":null,"labelAngle":-45,"labelFontSize":13,"ticks":false,"labelPadding":3}},"x2":{"field":"to"},"y":{"field":"lv","type":"quantitative","axis":{"values":[0,20,40,60,80,100],"title":"% activation on CD11c⁺","tickSize":3,"labelPadding":1,"labelFontSize":13,"titleFontSize":12.5,"titlePadding":5}}}},
{"mark":{"type":"point","shape":"M0,-1L0,1","size":64,"filled":false,"color":"#000","strokeWidth":1.5,"opacity":1},"encoding":{"x":{"field":"from","type":"nominal","axis":{"title":null,"labelAngle":-45,"labelFontSize":13,"ticks":false,"labelPadding":3}},"y":{"field":"lv","type":"quantitative","axis":{"values":[0,20,40,60,80,100],"title":"% activation on CD11c⁺","tickSize":3,"labelPadding":1,"labelFontSize":13,"titleFontSize":12.5,"titlePadding":5}}}},
{"mark":{"type":"point","shape":"M0,-1L0,1","size":64,"filled":false,"color":"#000","strokeWidth":1.5,"opacity":1},"encoding":{"x":{"field":"to","type":"nominal","axis":{"title":null,"labelAngle":-45,"labelFontSize":13,"ticks":false,"labelPadding":3}},"y":{"field":"lv","type":"quantitative","axis":{"values":[0,20,40,60,80,100],"title":"% activation on CD11c⁺","tickSize":3,"labelPadding":1,"labelFontSize":13,"titleFontSize":12.5,"titlePadding":5}}}},
{"transform":[{"filter":"datum.span==1"}],"mark":{"type":"text","fontSize":11,"baseline":"alphabetic","dy":-2,"dx":14.5},"encoding":{"x":{"field":"from","type":"nominal","axis":{"title":null,"labelAngle":-45,"labelFontSize":13,"ticks":false,"labelPadding":3}},"y":{"field":"lv","type":"quantitative","axis":{"values":[0,20,40,60,80,100],"title":"% activation on CD11c⁺","tickSize":3,"labelPadding":1,"labelFontSize":13,"titleFontSize":12.5,"titlePadding":5}},"text":{"field":"lab"}}}
]}
]},
{"width":176.5,"height":114.4,"title":{"text":"CD86","frame":"group","anchor":"middle","fontSize":13,"baseline":"alphabetic","offset":5},"layer":[
{"data":{"name":"bars"},"transform":[{"filter":"datum.m=='CD86'"}],"layer":[
{"mark":{"type":"bar","stroke":"#000","strokeWidth":1.5},"encoding":{"x":{"field":"g","type":"nominal","scale":{"type":"band","domain":["Immature DC","TAA+Cytokine DC","E6/E7+Cytokine DC","Cytokine DC","E6/E7 DC","TAA DC"],"paddingInner":0.31,"paddingOuter":0.2},"axis":{"title":null,"labelAngle":-45,"labelFontSize":13,"ticks":false,"labelPadding":3}},"y":{"field":"v","type":"quantitative","scale":{"domain":[0,100]},"axis":{"values":[0,20,40,60,80,100],"title":"% activation on CD11c⁺","tickSize":3,"labelPadding":1,"labelFontSize":13,"titleFontSize":12.5,"titlePadding":5}},"color":{"field":"g","type":"nominal","scale":{"domain":["Immature DC","TAA+Cytokine DC","E6/E7+Cytokine DC","Cytokine DC","E6/E7 DC","TAA DC"],"range":["#25AAE8","#F9A13E","#1EF01E","#0A5A0A","#C99A58","#B000C8"]},"legend":null}}},
{"mark":{"type":"rule","color":"#000","strokeWidth":1.5},"encoding":{"x":{"field":"g","type":"nominal","axis":{"title":null,"labelAngle":-45,"labelFontSize":13,"ticks":false,"labelPadding":3}},"y":{"field":"v","type":"quantitative","axis":{"values":[0,20,40,60,80,100],"title":"% activation on CD11c⁺","tickSize":3,"labelPadding":1,"labelFontSize":13,"titleFontSize":12.5,"titlePadding":5}},"y2":{"field":"u"}}},
{"mark":{"type":"tick","color":"#000","thickness":1.5,"size":11},"encoding":{"x":{"field":"g","type":"nominal","axis":{"title":null,"labelAngle":-45,"labelFontSize":13,"ticks":false,"labelPadding":3}},"y":{"field":"u","type":"quantitative","axis":{"values":[0,20,40,60,80,100],"title":"% activation on CD11c⁺","tickSize":3,"labelPadding":1,"labelFontSize":13,"titleFontSize":12.5,"titlePadding":5}}}}
]},
{"data":{"name":"br"},"transform":[{"filter":"datum.m=='CD86'"}],"layer":[
{"mark":{"type":"rule","color":"#000","strokeWidth":1.5},"encoding":{"x":{"field":"from","type":"nominal","axis":{"title":null,"labelAngle":-45,"labelFontSize":13,"ticks":false,"labelPadding":3}},"x2":{"field":"to"},"y":{"field":"lv","type":"quantitative","axis":{"values":[0,20,40,60,80,100],"title":"% activation on CD11c⁺","tickSize":3,"labelPadding":1,"labelFontSize":13,"titleFontSize":12.5,"titlePadding":5}}}},
{"mark":{"type":"point","shape":"M0,-1L0,1","size":64,"filled":false,"color":"#000","strokeWidth":1.5,"opacity":1},"encoding":{"x":{"field":"from","type":"nominal","axis":{"title":null,"labelAngle":-45,"labelFontSize":13,"ticks":false,"labelPadding":3}},"y":{"field":"lv","type":"quantitative","axis":{"values":[0,20,40,60,80,100],"title":"% activation on CD11c⁺","tickSize":3,"labelPadding":1,"labelFontSize":13,"titleFontSize":12.5,"titlePadding":5}}}},
{"mark":{"type":"point","shape":"M0,-1L0,1","size":64,"filled":false,"color":"#000","strokeWidth":1.5,"opacity":1},"encoding":{"x":{"field":"to","type":"nominal","axis":{"title":null,"labelAngle":-45,"labelFontSize":13,"ticks":false,"labelPadding":3}},"y":{"field":"lv","type":"quantitative","axis":{"values":[0,20,40,60,80,100],"title":"% activation on CD11c⁺","tickSize":3,"labelPadding":1,"labelFontSize":13,"titleFontSize":12.5,"titlePadding":5}}}},
{"transform":[{"filter":"datum.span==1"}],"mark":{"type":"text","fontSize":11,"baseline":"alphabetic","dy":-2,"dx":14.5},"encoding":{"x":{"field":"from","type":"nominal","axis":{"title":null,"labelAngle":-45,"labelFontSize":13,"ticks":false,"labelPadding":3}},"y":{"field":"lv","type":"quantitative","axis":{"values":[0,20,40,60,80,100],"title":"% activation on CD11c⁺","tickSize":3,"labelPadding":1,"labelFontSize":13,"titleFontSize":12.5,"titlePadding":5}},"text":{"field":"lab"}}}
]}
]},
{"width":176.5,"height":114.4,"title":{"text":"CD40","frame":"group","anchor":"middle","fontSize":13,"baseline":"alphabetic","offset":5},"layer":[
{"data":{"name":"bars"},"transform":[{"filter":"datum.m=='CD40'"}],"layer":[
{"mark":{"type":"bar","stroke":"#000","strokeWidth":1.5},"encoding":{"x":{"field":"g","type":"nominal","scale":{"type":"band","domain":["Immature DC","TAA+Cytokine DC","E6/E7+Cytokine DC","Cytokine DC","E6/E7 DC","TAA DC"],"paddingInner":0.31,"paddingOuter":0.2},"axis":{"title":null,"labelAngle":-45,"labelFontSize":13,"ticks":false,"labelPadding":3}},"y":{"field":"v","type":"quantitative","scale":{"domain":[0,50]},"axis":{"values":[0,10,20,30,40,50],"title":"% activation on CD11c⁺","tickSize":3,"labelPadding":1,"labelFontSize":13,"titleFontSize":12.5,"titlePadding":5}},"color":{"field":"g","type":"nominal","scale":{"domain":["Immature DC","TAA+Cytokine DC","E6/E7+Cytokine DC","Cytokine DC","E6/E7 DC","TAA DC"],"range":["#25AAE8","#F9A13E","#1EF01E","#0A5A0A","#C99A58","#B000C8"]},"legend":null}}},
{"mark":{"type":"rule","color":"#000","strokeWidth":1.5},"encoding":{"x":{"field":"g","type":"nominal","axis":{"title":null,"labelAngle":-45,"labelFontSize":13,"ticks":false,"labelPadding":3}},"y":{"field":"v","type":"quantitative","axis":{"values":[0,10,20,30,40,50],"title":"% activation on CD11c⁺","tickSize":3,"labelPadding":1,"labelFontSize":13,"titleFontSize":12.5,"titlePadding":5}},"y2":{"field":"u"}}},
{"mark":{"type":"tick","color":"#000","thickness":1.5,"size":11},"encoding":{"x":{"field":"g","type":"nominal","axis":{"title":null,"labelAngle":-45,"labelFontSize":13,"ticks":false,"labelPadding":3}},"y":{"field":"u","type":"quantitative","axis":{"values":[0,10,20,30,40,50],"title":"% activation on CD11c⁺","tickSize":3,"labelPadding":1,"labelFontSize":13,"titleFontSize":12.5,"titlePadding":5}}}}
]},
{"data":{"name":"br"},"transform":[{"filter":"datum.m=='CD40'"}],"layer":[
{"mark":{"type":"rule","color":"#000","strokeWidth":1.5},"encoding":{"x":{"field":"from","type":"nominal","axis":{"title":null,"labelAngle":-45,"labelFontSize":13,"ticks":false,"labelPadding":3}},"x2":{"field":"to"},"y":{"field":"lv","type":"quantitative","axis":{"values":[0,10,20,30,40,50],"title":"% activation on CD11c⁺","tickSize":3,"labelPadding":1,"labelFontSize":13,"titleFontSize":12.5,"titlePadding":5}}}},
{"mark":{"type":"point","shape":"M0,-1L0,1","size":64,"filled":false,"color":"#000","strokeWidth":1.5,"opacity":1},"encoding":{"x":{"field":"from","type":"nominal","axis":{"title":null,"labelAngle":-45,"labelFontSize":13,"ticks":false,"labelPadding":3}},"y":{"field":"lv","type":"quantitative","axis":{"values":[0,10,20,30,40,50],"title":"% activation on CD11c⁺","tickSize":3,"labelPadding":1,"labelFontSize":13,"titleFontSize":12.5,"titlePadding":5}}}},
{"mark":{"type":"point","shape":"M0,-1L0,1","size":64,"filled":false,"color":"#000","strokeWidth":1.5,"opacity":1},"encoding":{"x":{"field":"to","type":"nominal","axis":{"title":null,"labelAngle":-45,"labelFontSize":13,"ticks":false,"labelPadding":3}},"y":{"field":"lv","type":"quantitative","axis":{"values":[0,10,20,30,40,50],"title":"% activation on CD11c⁺","tickSize":3,"labelPadding":1,"labelFontSize":13,"titleFontSize":12.5,"titlePadding":5}}}},
{"transform":[{"filter":"datum.span==1"}],"mark":{"type":"text","fontSize":11,"baseline":"alphabetic","dy":-2,"dx":14.5},"encoding":{"x":{"field":"from","type":"nominal","axis":{"title":null,"labelAngle":-45,"labelFontSize":13,"ticks":false,"labelPadding":3}},"y":{"field":"lv","type":"quantitative","axis":{"values":[0,10,20,30,40,50],"title":"% activation on CD11c⁺","tickSize":3,"labelPadding":1,"labelFontSize":13,"titleFontSize":12.5,"titlePadding":5}},"text":{"field":"lab"}}},
{"transform":[{"filter":"datum.span==2"}],"mark":{"type":"text","fontSize":11,"baseline":"alphabetic","dy":-2},"encoding":{"x":{"field":"mid","type":"nominal","axis":{"title":null,"labelAngle":-45,"labelFontSize":13,"ticks":false,"labelPadding":3}},"y":{"field":"lv","type":"quantitative","axis":{"values":[0,10,20,30,40,50],"title":"% activation on CD11c⁺","tickSize":3,"labelPadding":1,"labelFontSize":13,"titleFontSize":12.5,"titlePadding":5}},"text":{"field":"lab"}}}
]}
]}
]},
{"width":1,"height":265.4,"data":{"values":[]},"mark":"point"},
{"bounds":"flush","spacing":10,"resolve":{"scale":{"x":"independent","y":"independent","color":"independent"}},"hconcat":[
{"width":91.7,"height":120.6,"data":{"values":[]},"mark":"point","title":{"text":"C","anchor":"start","frame":"group","fontSize":21,"fontWeight":"bold","color":"#000","baseline":"alphabetic","offset":-4,"dx":19}},
{"width":185.6,"height":120.6,"layer":[
{"data":{"name":"cb"},"layer":[
{"mark":{"type":"bar","stroke":"#000","strokeWidth":1.5,"color":"#868686"},"encoding":{"x":{"field":"g","type":"nominal","scale":{"type":"band","domain":["PBS","TAA+Cytokine DC","E6/E7+Cytokine DC","Cytokine DC","E6/E7 DC","TAA DC"],"paddingInner":0.3,"paddingOuter":0.19},"axis":{"title":null,"labelAngle":-45,"labelFontSize":13,"ticks":false,"labelPadding":3}},"y":{"field":"v","type":"quantitative","scale":{"domain":[0,3000]},"axis":{"values":[0,1000,2000,3000],"labelExpr":"format(datum.value, ',')","title":"IFN-γ (pg ml⁻¹)","tickSize":3,"labelPadding":2,"labelFontSize":13,"titleFontSize":13,"titlePadding":6}}}},
{"transform":[{"filter":"datum.u>datum.v"}],"mark":{"type":"rule","color":"#000","strokeWidth":1.5},"encoding":{"x":{"field":"g","type":"nominal","axis":{"title":null,"labelAngle":-45,"labelFontSize":13,"ticks":false,"labelPadding":3}},"y":{"field":"v","type":"quantitative","axis":{"values":[0,1000,2000,3000],"labelExpr":"format(datum.value, ',')","title":"IFN-γ (pg ml⁻¹)","tickSize":3,"labelPadding":2,"labelFontSize":13,"titleFontSize":13,"titlePadding":6}},"y2":{"field":"u"}}},
{"transform":[{"filter":"datum.u>datum.v"}],"mark":{"type":"tick","color":"#000","thickness":1.5,"size":11},"encoding":{"x":{"field":"g","type":"nominal","axis":{"title":null,"labelAngle":-45,"labelFontSize":13,"ticks":false,"labelPadding":3}},"y":{"field":"u","type":"quantitative","axis":{"values":[0,1000,2000,3000],"labelExpr":"format(datum.value, ',')","title":"IFN-γ (pg ml⁻¹)","tickSize":3,"labelPadding":2,"labelFontSize":13,"titleFontSize":13,"titlePadding":6}}}},
{"transform":[{"filter":"datum.lab=='nd'"}],"mark":{"type":"text","fontSize":13,"baseline":"alphabetic","dy":-14},"encoding":{"x":{"field":"g","type":"nominal","axis":{"title":null,"labelAngle":-45,"labelFontSize":13,"ticks":false,"labelPadding":3}},"y":{"field":"v","type":"quantitative","axis":{"values":[0,1000,2000,3000],"labelExpr":"format(datum.value, ',')","title":"IFN-γ (pg ml⁻¹)","tickSize":3,"labelPadding":2,"labelFontSize":13,"titleFontSize":13,"titlePadding":6}},"text":{"field":"lab"}}}
]},
{"data":{"name":"br"},"transform":[{"filter":"datum.m=='IFN'"}],"layer":[
{"mark":{"type":"rule","color":"#000","strokeWidth":1.5},"encoding":{"x":{"field":"from","type":"nominal","axis":{"title":null,"labelAngle":-45,"labelFontSize":13,"ticks":false,"labelPadding":3}},"x2":{"field":"to"},"y":{"field":"lv","type":"quantitative","axis":{"values":[0,1000,2000,3000],"labelExpr":"format(datum.value, ',')","title":"IFN-γ (pg ml⁻¹)","tickSize":3,"labelPadding":2,"labelFontSize":13,"titleFontSize":13,"titlePadding":6}}}},
{"mark":{"type":"point","shape":"M0,-1L0,1","size":64,"filled":false,"color":"#000","strokeWidth":1.5,"opacity":1},"encoding":{"x":{"field":"from","type":"nominal","axis":{"title":null,"labelAngle":-45,"labelFontSize":13,"ticks":false,"labelPadding":3}},"y":{"field":"lv","type":"quantitative","axis":{"values":[0,1000,2000,3000],"labelExpr":"format(datum.value, ',')","title":"IFN-γ (pg ml⁻¹)","tickSize":3,"labelPadding":2,"labelFontSize":13,"titleFontSize":13,"titlePadding":6}}}},
{"mark":{"type":"point","shape":"M0,-1L0,1","size":64,"filled":false,"color":"#000","strokeWidth":1.5,"opacity":1},"encoding":{"x":{"field":"to","type":"nominal","axis":{"title":null,"labelAngle":-45,"labelFontSize":13,"ticks":false,"labelPadding":3}},"y":{"field":"lv","type":"quantitative","axis":{"values":[0,1000,2000,3000],"labelExpr":"format(datum.value, ',')","title":"IFN-γ (pg ml⁻¹)","tickSize":3,"labelPadding":2,"labelFontSize":13,"titleFontSize":13,"titlePadding":6}}}},
{"transform":[{"filter":"datum.span==2"}],"mark":{"type":"text","fontSize":11,"baseline":"alphabetic","dy":-2},"encoding":{"x":{"field":"mid","type":"nominal","axis":{"title":null,"labelAngle":-45,"labelFontSize":13,"ticks":false,"labelPadding":3}},"y":{"field":"lv","type":"quantitative","axis":{"values":[0,1000,2000,3000],"labelExpr":"format(datum.value, ',')","title":"IFN-γ (pg ml⁻¹)","tickSize":3,"labelPadding":2,"labelFontSize":13,"titleFontSize":13,"titlePadding":6}},"text":{"field":"lab"}}}
]}
]}
]},
{"width":1,"height":220.6,"data":{"values":[]},"mark":"point"},
{"bounds":"flush","spacing":10,"resolve":{"scale":{"x":"independent","y":"independent","color":"independent"}},"hconcat":[
{"width":91.7,"height":14,"data":{"values":[]},"mark":"point"},
{"width":185.6,"height":14,"data":{"values":[{"a":"PBS","b":"TAA DC","t":"+ Splenocytes"}]},"layer":[
{"mark":{"type":"rule","color":"#000","strokeWidth":1.5},"encoding":{"x":{"field":"a","type":"nominal","scale":{"type":"band","domain":["PBS","TAA+Cytokine DC","E6/E7+Cytokine DC","Cytokine DC","E6/E7 DC","TAA DC"],"paddingInner":0.3,"paddingOuter":0.19},"axis":null},"x2":{"field":"b"},"y":{"datum":1,"type":"quantitative","scale":{"domain":[0,1]},"axis":null}}},
{"mark":{"type":"point","shape":"M0,-1L0,1","size":64,"filled":false,"color":"#000","strokeWidth":1.5,"opacity":1},"encoding":{"x":{"field":"a","type":"nominal","axis":null},"y":{"datum":1,"type":"quantitative","axis":null}}},
{"mark":{"type":"point","shape":"M0,-1L0,1","size":64,"filled":false,"color":"#000","strokeWidth":1.5,"opacity":1},"encoding":{"x":{"field":"b","type":"nominal","axis":null},"y":{"datum":1,"type":"quantitative","axis":null}}},
{"mark":{"type":"text","fontSize":13,"baseline":"alphabetic","dx":-11},"encoding":{"y":{"datum":0,"type":"quantitative","axis":null},"text":{"field":"t"}}}
]}
]}
]
}
